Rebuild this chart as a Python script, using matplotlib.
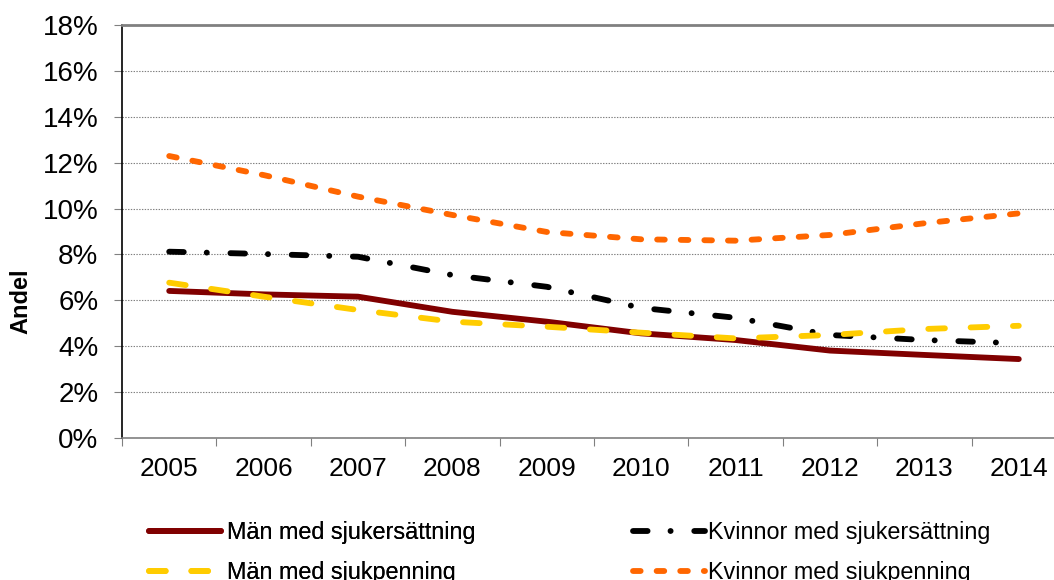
import matplotlib
matplotlib.use('Agg')
import matplotlib.pyplot as plt
from matplotlib.ticker import FixedLocator, NullFormatter, FuncFormatter

plt.rcParams['font.family'] = ['Liberation Sans', 'DejaVu Sans']
plt.rcParams['lines.scale_dashes'] = False

years = ['2005', '2006', '2007', '2008', '2009', '2010', '2011', '2012', '2013', '2014']
man_sjukers = [6.41, 6.26, 6.16, 5.50, 5.07, 4.56, 4.27, 3.81, 3.62, 3.44]
kvinn_sjukers = [8.12, 8.02, 7.90, 7.10, 6.59, 5.67, 5.24, 4.49, 4.27, 4.13]
man_sjukpen = [6.77, 6.16, 5.58, 5.07, 4.85, 4.59, 4.34, 4.49, 4.75, 4.89]
kvinn_sjukpen = [12.29, 11.46, 10.52, 9.72, 8.98, 8.66, 8.60, 8.85, 9.36, 9.79]
yticks = [0, 2, 4, 6, 8, 10, 12, 14, 16, 18]

fig = plt.figure(figsize=(10.54, 5.8), dpi=100)
ax = fig.add_axes([122 / 1054, 142 / 580, 944 / 1054, 413 / 580])

x = list(range(len(years)))
lw = 4.2
l1, = ax.plot(x, man_sjukers, color='#800000', lw=lw, solid_capstyle='round',
              solid_joinstyle='round', label='Män med sjukersättning')
l2, = ax.plot(x, kvinn_sjukers, color='black', lw=lw, dash_capstyle='round',
              dashes=(10.5, 16.5, 0.1, 17), label='Kvinnor med sjukersättning')
l3, = ax.plot(x, man_sjukpen, color='#FFCC00', lw=lw, dash_capstyle='round',
              dashes=(12, 18.5), label='Män med sjukpenning')
l4, = ax.plot(x, kvinn_sjukpen, color='#FF6600', lw=lw, dash_capstyle='round',
              dashes=(5.5, 11.5), label='Kvinnor med sjukpenning')

ax.set_xlim(-0.5, len(years) - 0.5)
ax.set_ylim(0, 18)
ax.set_yticks(yticks)
ax.yaxis.set_major_formatter(FuncFormatter(lambda v, p: '%d%%' % v))
ax.xaxis.set_major_locator(FixedLocator([i - 0.5 for i in range(len(years) + 1)]))
ax.xaxis.set_major_formatter(NullFormatter())
ax.xaxis.set_minor_locator(FixedLocator(x))
ax.set_xticklabels(years, minor=True)
ax.tick_params(axis='x', which='minor', length=0, labelsize=19, pad=14)
ax.tick_params(axis='x', which='major', length=6, color='#808080', direction='out')
ax.tick_params(axis='y', labelsize=20, length=6, color='#808080', pad=11)

ax.grid(axis='y', color='#808080', linestyle=(0, (1, 1)), lw=0.8)
ax.set_axisbelow(True)
ax.spines['right'].set_visible(False)
ax.spines['top'].set_color('#808080')
ax.spines['top'].set_linewidth(2)
ax.spines['left'].set_color('black')
ax.spines['left'].set_linewidth(1.2)
ax.spines['bottom'].set_color('#808080')
ax.spines['bottom'].set_linewidth(1.2)

fig.text(21 / 1054, 1 - 301 / 580, 'Andel', rotation=90, fontsize=17,
         fontweight='bold', ha='center', va='center')
fig.text(0.0, 1.0 + 5 / 580, 'penning', family='Liberation Serif', fontweight='bold',
         fontsize=16, ha='left', va='baseline')

leg1 = fig.legend([l1, l3], [l1.get_label(), l3.get_label()], loc='upper left',
                  bbox_to_anchor=(149 / 1054, 1 - 521 / 580), frameon=False,
                  fontsize=16.8, handlelength=3.1, handletextpad=0.25,
                  labelspacing=0.72, borderpad=0, borderaxespad=0)
leg2 = fig.legend([l2, l4], [l2.get_label(), l4.get_label()], loc='upper left',
                  bbox_to_anchor=(633 / 1054, 1 - 521 / 580), frameon=False,
                  fontsize=16.8, handlelength=3.1, handletextpad=0.13,
                  labelspacing=0.72, borderpad=0, borderaxespad=0)
fig.add_artist(leg1)

fig.savefig('out.png', dpi=100)
